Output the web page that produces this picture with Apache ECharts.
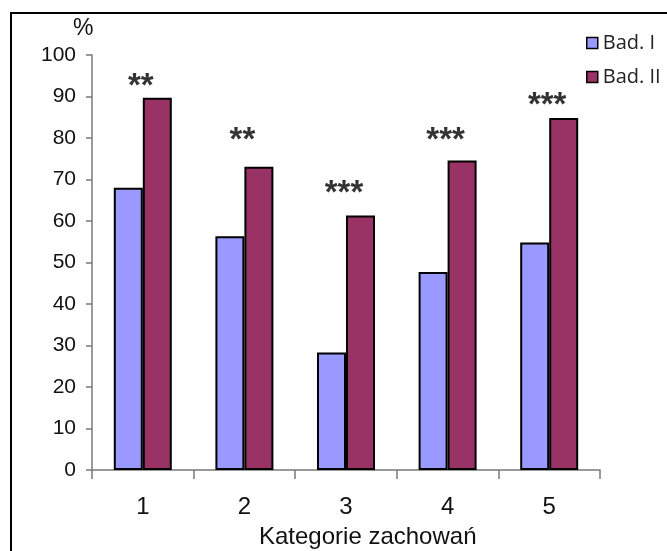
<!DOCTYPE html>
<html><head><meta charset="utf-8">
<script src="https://cdn.jsdelivr.net/npm/echarts@6/dist/echarts.min.js"></script>
<style>html,body{margin:0;padding:0;background:#fff}#c{width:667px;height:551px}</style>
</head><body><div id="c"></div>
<script>
var categories = ['1', '2', '3', '4', '5'];
var badI = [68, 56.3, 28.3, 47.7, 54.8];
var badII = [89.7, 73.1, 61.3, 74.6, 84.8];
var starText = ['**', '**', '***', '***', '***'];
var starLevel = [93.7, 80.7, 67.9, 80.7, 89.2];
var yTicks = [0, 10, 20, 30, 40, 50, 60, 70, 80, 90, 100];

var chart = echarts.init(document.getElementById('c'));
chart.setOption({
  animation: false,
  backgroundColor: '#fff',
  graphic: [
    { type: 'rect', shape: { x: 11, y: 13, width: 700, height: 600 }, style: { fill: 'none', stroke: '#000', lineWidth: 2 } },
    { type: 'text', left: 73, top: 17, style: { text: '%', fontSize: 23, fontFamily: '"Liberation Sans", Arial', fill: '#111' } }
  ],
  title: {
    text: 'Kategorie zachowań', left: 254, top: 520,
    textStyle: { fontFamily: '"Liberation Sans", Arial', fontSize: 24, fontWeight: 'normal', color: '#111' }
  },
  legend: {
    orient: 'vertical', left: 581, top: 28, itemGap: 14, itemWidth: 11, itemHeight: 11,
    icon: 'rect',
    itemStyle: { borderColor: '#000', borderWidth: 1.5 },
    textStyle: { fontFamily: '"Open Sans", sans-serif', fontSize: 20, color: '#222' },
    data: ['Bad. I', 'Bad. II']
  },
  grid: { left: 92, right: 67, top: 55, bottom: 81 },
  xAxis: {
    type: 'category', data: categories,
    axisLine: { lineStyle: { color: '#7a7a7a', width: 1.5 } },
    axisTick: { show: true, length: 9, alignWithLabel: false, lineStyle: { color: '#7a7a7a', width: 1.5 } },
    axisLabel: { fontFamily: '"Liberation Sans", Arial', fontSize: 24, color: '#111', margin: 25 }
  },
  yAxis: {
    type: 'value', min: 0, max: 100, interval: 10,
    splitLine: { show: false },
    axisLine: { show: true, lineStyle: { color: '#7a7a7a', width: 1.5 } },
    axisTick: { show: true, length: 6, lineStyle: { color: '#7a7a7a', width: 1.5 } },
    axisLabel: { fontFamily: '"Liberation Sans", Arial', fontSize: 21, color: '#111', margin: 16,
      formatter: function (v) { return yTicks.indexOf(v) >= 0 ? String(v) : ''; } }
  },
  series: [
    { name: 'Bad. I', type: 'bar', data: badI, barWidth: 29, barGap: '0%',
      itemStyle: { color: '#9999FF', borderColor: '#000', borderWidth: 2 } },
    { name: 'Bad. II', type: 'bar', data: badII, barWidth: 29,
      itemStyle: { color: '#993366', borderColor: '#000', borderWidth: 2 } },
    { name: 'stars', type: 'scatter', data: starLevel, symbolSize: 0, silent: true,
      label: { show: true, position: 'inside', offset: [-2, 6],
        formatter: function (p) { return starText[p.dataIndex]; },
        fontFamily: '"Liberation Sans", Arial', fontSize: 33, fontWeight: 'bold', color: '#000' } }
  ]
});
</script></body></html>
